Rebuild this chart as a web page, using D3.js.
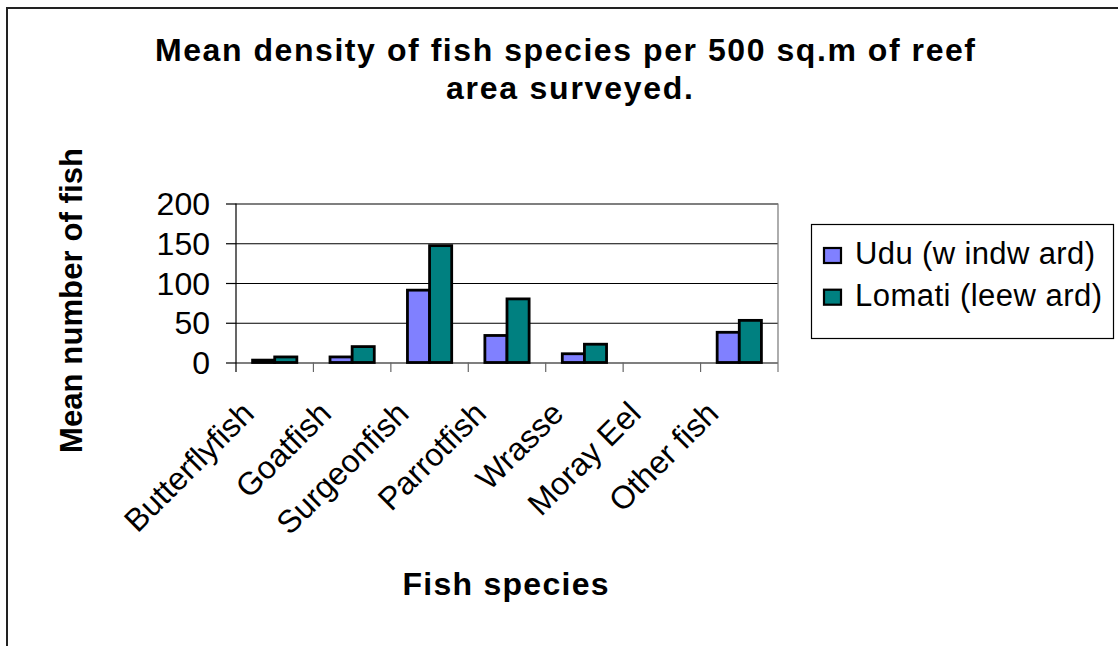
<!DOCTYPE html>
<html>
<head>
<meta charset="utf-8">
<script src="https://cdn.jsdelivr.net/npm/d3@7/dist/d3.min.js"></script>
<style>
  html, body { margin: 0; padding: 0; background: #fff; }
  svg { display: block; font-family: "Liberation Sans", Arial, sans-serif; }
</style>
</head>
<body>
<svg id="chart" width="1118" height="646"></svg>
<script>
// Survey data: mean fish counts per 500 sq.m of reef
const categories = ["Butterflyfish", "Goatfish", "Surgeonfish", "Parrotfish", "Wrasse", "Moray Eel", "Other fish"];
const uduValues = [3, 7, 91, 34, 11, 0, 38];
const lomatiValues = [7, 20, 147, 80, 23, 0, 53];
const seriesNames = ["Udu (w indw ard)", "Lomati (leew ard)"];
const seriesColors = ["#8080FF", "#008080"];
const yTicks = [0, 50, 100, 150, 200];

const titleLines = ["Mean density of fish species per 500 sq.m of reef", "area surveyed."];
const yTitle = "Mean number of fish";
const xTitle = "Fish species";

const svg = d3.select("#chart");
const W = 1118, H = 646;

// Chart frame
svg.append("rect")
  .attr("x", 7).attr("y", 8)
  .attr("width", W + 20).attr("height", H + 20)
  .attr("fill", "#fff").attr("stroke", "#222").attr("stroke-width", 2);

// Plot area geometry
const plot = { left: 236, right: 778, top: 203.5, bottom: 362.5 };

const x0 = d3.scaleBand().domain(categories).range([plot.left, plot.right]).padding(0);
const gap = 1.5; // gap between groups, as a fraction of one bar
const barW = x0.step() / (2 + gap);
const x1 = d3.scaleBand().domain([0, 1])
  .range([x0.step() * gap / (2 + gap) / 2, x0.step() * gap / (2 + gap) / 2 + 2 * barW]);
const y = d3.scaleLinear().domain([0, 200]).range([plot.bottom, plot.top]);

// Gridlines
const grid = svg.append("g").attr("transform", `translate(${plot.left},0)`)
  .call(d3.axisLeft(y).tickValues(yTicks).tickSize(-(plot.right - plot.left)).tickFormat(""));
grid.select(".domain").remove();
grid.selectAll("line").attr("stroke", "#000").attr("stroke-width", 1.2);

// Right edge of plot area
svg.append("line")
  .attr("x1", plot.right).attr("x2", plot.right)
  .attr("y1", plot.top).attr("y2", plot.bottom + 9.5)
  .attr("stroke", "#777").attr("stroke-width", 1.2);

// Bars
const series = [uduValues, lomatiValues];
const groups = svg.append("g").selectAll("g")
  .data(categories)
  .join("g")
  .attr("transform", d => `translate(${x0(d)},0)`);

groups.selectAll("rect")
  .data((d, i) => series.map((vals, s) => ({ s, v: vals[i] })))
  .join("rect")
  .attr("x", d => x1(d.s))
  .attr("width", x1.bandwidth())
  .attr("y", d => y(d.v))
  .attr("height", d => y(0) - y(d.v))
  .attr("fill", d => seriesColors[d.s])
  .attr("stroke", "#000")
  .attr("stroke-width", d => d.v > 0 ? 2.8 : 0);

// Y axis
const yAxis = svg.append("g").attr("transform", `translate(${plot.left},0)`)
  .call(d3.axisLeft(y).tickValues(yTicks).tickSize(10).tickPadding(16));
yAxis.select(".domain").remove();
yAxis.selectAll("line").attr("stroke", "#000").attr("stroke-width", 1.2);
yAxis.selectAll("text")
  .attr("font-size", 32).attr("fill", "#000")
  .attr("dy", null).attr("y", 11);
svg.append("line")
  .attr("x1", plot.left).attr("x2", plot.left)
  .attr("y1", plot.top).attr("y2", plot.bottom + 9.5)
  .attr("stroke", "#000").attr("stroke-width", 1.2);

// Category separator ticks
const bounds = categories.slice(1).map(c => x0(c));
svg.append("g").selectAll("line")
  .data(bounds)
  .join("line")
  .attr("x1", d => d).attr("x2", d => d)
  .attr("y1", plot.bottom).attr("y2", plot.bottom + 9.5)
  .attr("stroke", "#666").attr("stroke-width", 1.2);

// Category labels, rotated
const xAxis = svg.append("g").attr("transform", `translate(0,${plot.bottom})`)
  .call(d3.axisBottom(x0).tickSize(0).tickFormat(d => d));
xAxis.select(".domain").remove();
xAxis.selectAll("text")
  .attr("font-size", 32).attr("fill", "#000")
  .attr("text-anchor", "end")
  .attr("dy", null).attr("y", 0)
  .attr("transform", "translate(-19,53) rotate(-45)");

// Title
svg.append("g").selectAll("text")
  .data(titleLines)
  .join("text")
  .attr("x", (d, i) => i === 0 ? 565 : 569.5)
  .attr("y", (d, i) => i === 0 ? 61 : 99)
  .attr("text-anchor", "middle")
  .attr("font-weight", "bold").attr("font-size", 32)
  .attr("textLength", (d, i) => i === 0 ? 820 : 247)
  .attr("lengthAdjust", "spacing")
  .text(d => d);

// Axis titles
svg.append("text")
  .attr("transform", "translate(82,300.5) rotate(-90)")
  .attr("text-anchor", "middle")
  .attr("font-weight", "bold").attr("font-size", 31)
  .attr("textLength", 305).attr("lengthAdjust", "spacing")
  .text(yTitle);

svg.append("text")
  .attr("x", 505.5).attr("y", 595)
  .attr("text-anchor", "middle")
  .attr("font-weight", "bold").attr("font-size", 32)
  .attr("textLength", 206).attr("lengthAdjust", "spacing")
  .text(xTitle);

// Legend
const legend = svg.append("g");
legend.append("rect")
  .attr("x", 811.5).attr("y", 224.5)
  .attr("width", 302).attr("height", 114)
  .attr("fill", "#fff").attr("stroke", "#000").attr("stroke-width", 1.2);
const items = legend.selectAll("g.item")
  .data(seriesNames)
  .join("g").attr("class", "item")
  .attr("transform", (d, i) => `translate(0,${i === 0 ? 0 : 41.7})`);
items.append("rect")
  .attr("x", 824).attr("y", 248)
  .attr("width", 17).attr("height", 15)
  .attr("fill", (d, i) => seriesColors[i])
  .attr("stroke", "#000").attr("stroke-width", 2.2);
items.append("text")
  .attr("x", 855).attr("y", 264)
  .attr("font-size", 31)
  .attr("textLength", (d, i) => i === 0 ? 240 : 247)
  .attr("lengthAdjust", "spacing")
  .text(d => d);
</script>
</body>
</html>
